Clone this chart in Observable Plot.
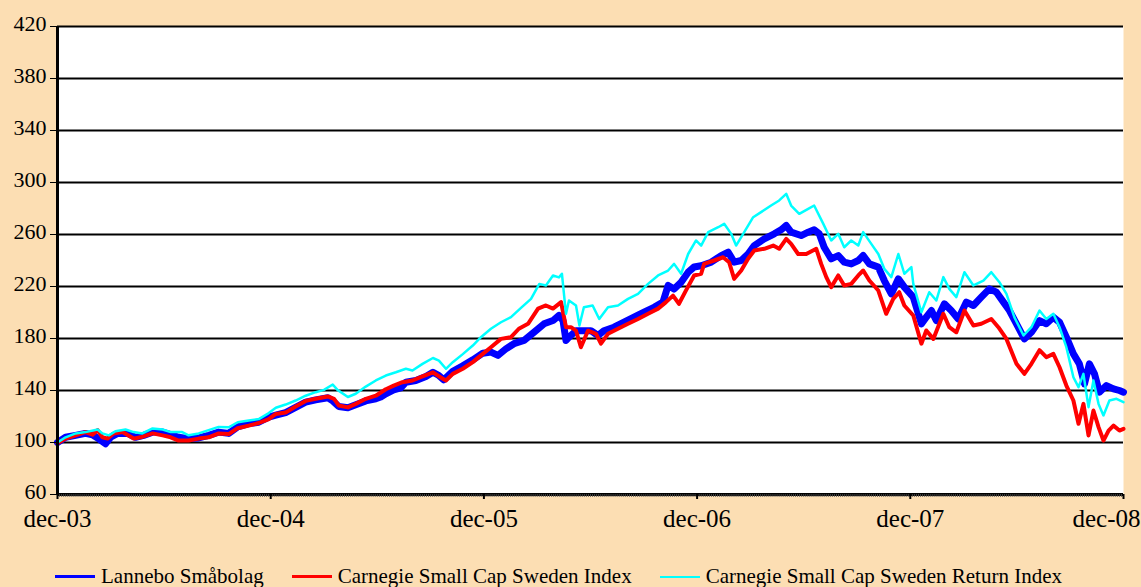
<!DOCTYPE html>
<html><head><meta charset="utf-8">
<script src="https://cdn.jsdelivr.net/npm/d3@7"></script>
<script src="https://cdn.jsdelivr.net/npm/@observablehq/plot@0.6"></script>
<style>
html,body{margin:0;padding:0;background:#FCDEB3;}
#wrap{position:relative;width:1141px;height:587px;overflow:hidden;font-family:"Liberation Serif","Times New Roman",serif;}
#chart{position:absolute;left:0;top:0;}
#legend{position:absolute;left:55px;top:566px;display:flex;align-items:center;font-size:21px;line-height:21px;color:#000;white-space:nowrap;}
.item{display:flex;align-items:center;margin-right:28px;}
.sw{width:40px;margin-right:6px;}
</style></head><body>
<div id="wrap"><div id="chart"></div><div id="legend"></div></div>
<script>
// x values are decimal years (2004.0 = end of Dec 2003)
const yearTicks = [2004, 2005, 2006, 2007, 2008, 2009];
const tickLabels = ["dec-03", "dec-04", "dec-05", "dec-06", "dec-07", "dec-08"];
const yTicks = [60, 100, 140, 180, 220, 260, 300, 340, 380, 420];

const seriesNames = ["Lannebo Småbolag", "Carnegie Small Cap Sweden Index", "Carnegie Small Cap Sweden Return Index"];
const seriesColors = ["#0000FF", "#FF0000", "#00FFFF"];

const lannebo = [
[2004.000,100],[2004.038,104],[2004.085,105.5],[2004.131,107],[2004.164,106],[2004.192,103],[2004.225,99],[2004.249,104],[2004.282,107],[2004.329,107],[2004.366,104],[2004.404,105.5],[2004.446,108],[2004.493,108],[2004.531,106],[2004.568,104],[2004.615,103],[2004.662,103.5],[2004.709,105.5],[2004.756,108],[2004.803,107],[2004.845,112],[2004.897,114.5],[2004.944,115.6],[2004.991,119.5],
[2005.024,121],[2005.070,123],[2005.117,127],[2005.164,131],[2005.211,132.8],[2005.268,134.4],[2005.291,132],[2005.319,127.7],[2005.362,126.7],[2005.399,129],[2005.446,132],[2005.493,133.6],[2005.516,135],[2005.540,137.5],[2005.577,140.5],[2005.610,142],[2005.634,146.4],[2005.681,147.7],[2005.728,150.8],[2005.761,154],[2005.789,151.5],[2005.812,148.2],[2005.854,154.8],[2005.901,159],[2005.948,163.6],[2005.995,168.7],
[2006.033,169.5],[2006.066,167],[2006.103,172],[2006.141,176],[2006.188,178.5],[2006.235,184.8],[2006.282,191.3],[2006.324,193.8],[2006.352,197.7],[2006.371,193.8],[2006.385,178.5],[2006.399,181],[2006.432,186],[2006.469,186],[2006.502,186],[2006.535,182.3],[2006.563,186],[2006.610,188.7],[2006.657,192.5],[2006.704,196.4],[2006.751,200.2],[2006.798,204],[2006.840,208],[2006.864,220.8],[2006.892,218],[2006.925,223.3],[2006.958,231],[2006.986,235],
[2007.019,236],[2007.066,238.7],[2007.113,243.8],[2007.146,246.4],[2007.174,238.7],[2007.207,240],[2007.239,245],[2007.268,251.5],[2007.315,256.6],[2007.362,260.5],[2007.394,263.6],[2007.418,266.9],[2007.441,261.8],[2007.488,259.2],[2007.521,261.8],[2007.549,263.6],[2007.573,260.5],[2007.596,250.2],[2007.629,241.3],[2007.662,243.8],[2007.690,238.7],[2007.723,237.4],[2007.756,240],[2007.779,243.8],[2007.808,237.4],[2007.850,234.9],[2007.878,224.6],[2007.911,214.3],[2007.944,225.9],[2007.972,219.5],
[2008.014,211.8],[2008.052,191.3],[2008.075,196.4],[2008.099,201.5],[2008.122,193.8],[2008.160,206.7],[2008.192,201.5],[2008.225,195],[2008.263,208],[2008.296,205.4],[2008.333,211.8],[2008.371,218.2],[2008.404,215.6],[2008.437,208],[2008.465,201.5],[2008.498,191.3],[2008.535,179.7],[2008.568,184.8],[2008.606,193.8],[2008.638,191.3],[2008.671,196.4],[2008.700,192.5],[2008.732,181],[2008.765,168.2],[2008.793,160.5],[2008.817,145.1],[2008.840,160.5],[2008.864,152.8],[2008.887,138.7],[2008.920,143.8],[2008.953,141.3],[2008.981,140],[2009.000,138.7]
];

const carnegie = [
[2004.000,99.5],[2004.038,103],[2004.085,105.5],[2004.131,108],[2004.164,106],[2004.188,109.5],[2004.211,104],[2004.235,103],[2004.263,107],[2004.305,108],[2004.357,103],[2004.390,104],[2004.446,107],[2004.493,105.5],[2004.531,104],[2004.568,101.5],[2004.615,101.5],[2004.662,103],[2004.709,104],[2004.756,107],[2004.803,106.5],[2004.845,111],[2004.897,113],[2004.944,115],[2004.991,118],
[2005.024,122],[2005.070,123],[2005.117,127.7],[2005.164,132],[2005.211,133.6],[2005.268,135.4],[2005.297,133.6],[2005.319,128.5],[2005.362,127],[2005.399,129.7],[2005.446,133.6],[2005.493,136],[2005.540,141],[2005.577,143.8],[2005.618,146.4],[2005.665,147.7],[2005.712,150.8],[2005.761,154],[2005.798,150],[2005.822,147.7],[2005.854,152.8],[2005.901,156.7],[2005.948,161.8],[2005.995,168.2],
[2006.033,173.3],[2006.080,179.7],[2006.127,181],[2006.164,187.5],[2006.207,191.3],[2006.254,203],[2006.291,205.4],[2006.324,203],[2006.362,208],[2006.385,188.7],[2006.408,188.7],[2006.432,186],[2006.455,173.3],[2006.488,186],[2006.526,183.6],[2006.549,176],[2006.582,183.6],[2006.629,187.5],[2006.676,191.3],[2006.723,195],[2006.770,199],[2006.817,203],[2006.854,208],[2006.887,213],[2006.915,206.7],[2006.948,217],[2006.986,228.5],[2007.019,229.8],
[2007.033,237.4],[2007.080,240],[2007.122,242.5],[2007.150,238.7],[2007.174,225.9],[2007.207,232.3],[2007.239,241.3],[2007.268,247.7],[2007.315,249],[2007.357,251.5],[2007.385,249],[2007.418,256.6],[2007.441,252.8],[2007.474,245],[2007.512,245],[2007.559,249],[2007.582,237.4],[2007.606,227.2],[2007.629,219.5],[2007.662,228.5],[2007.690,220.8],[2007.723,222],[2007.756,228.5],[2007.779,232.3],[2007.808,224.6],[2007.850,216.9],[2007.887,199],[2007.920,210.5],[2007.948,215.6],[2007.972,205.4],
[2008.014,197.7],[2008.052,176],[2008.075,186.2],[2008.108,179.7],[2008.155,199],[2008.183,188.7],[2008.216,184.8],[2008.254,201.5],[2008.296,190],[2008.333,191.3],[2008.380,195],[2008.413,188.7],[2008.451,179.7],[2008.498,160.5],[2008.535,152.8],[2008.568,160.5],[2008.606,171],[2008.638,165.6],[2008.671,168.2],[2008.700,157.9],[2008.732,143.8],[2008.765,132.3],[2008.789,114.4],[2008.812,129.7],[2008.836,105.4],[2008.859,124.6],[2008.883,111.8],[2008.906,101.5],[2008.930,109.2],[2008.953,113],[2008.981,109.2],[2009.000,110.5]
];

const carnegieReturn = [
[2004.000,100],[2004.038,104],[2004.085,107],[2004.131,108],[2004.188,110],[2004.211,107],[2004.241,105.5],[2004.272,108.7],[2004.319,110],[2004.357,108],[2004.398,107],[2004.446,110.8],[2004.493,110],[2004.531,108],[2004.585,108],[2004.615,105.5],[2004.662,107],[2004.709,109.5],[2004.756,112],[2004.803,111.7],[2004.845,115.6],[2004.897,117],[2004.944,118],[2004.991,122.6],
[2005.024,126.7],[2005.070,129.2],[2005.117,132.3],[2005.164,136],[2005.211,138.7],[2005.250,140.5],[2005.291,144.6],[2005.313,140.5],[2005.362,135],[2005.399,137.5],[2005.446,143],[2005.493,147.7],[2005.540,151.5],[2005.587,154],[2005.634,156.7],[2005.665,155.4],[2005.712,160.5],[2005.761,165],[2005.789,163],[2005.822,156.7],[2005.854,161.8],[2005.901,168],[2005.948,174.6],[2005.986,181],
[2006.033,187.5],[2006.080,192.5],[2006.127,196.4],[2006.174,203.6],[2006.221,210.5],[2006.260,222],[2006.291,220.8],[2006.324,228.5],[2006.352,227],[2006.366,229.8],[2006.385,199],[2006.399,209.2],[2006.432,205.4],[2006.448,190],[2006.469,204],[2006.510,205.4],[2006.541,195],[2006.582,204],[2006.629,205.4],[2006.676,210.5],[2006.723,214.3],[2006.770,222],[2006.817,228.5],[2006.864,232.3],[2006.892,237.4],[2006.925,229.8],[2006.958,245],[2006.995,255.4],[2007.019,251.5],
[2007.052,261.8],[2007.099,265.6],[2007.127,268.2],[2007.160,260.5],[2007.183,251.5],[2007.221,261.8],[2007.263,273.3],[2007.300,277.2],[2007.347,282.3],[2007.385,286.2],[2007.418,291.3],[2007.441,282.3],[2007.479,275.9],[2007.521,279.7],[2007.549,282.3],[2007.592,268.2],[2007.629,255.4],[2007.662,260.5],[2007.690,250.2],[2007.723,255.4],[2007.756,251.5],[2007.779,261.8],[2007.817,252.8],[2007.850,245],[2007.878,233.6],[2007.911,227.2],[2007.944,245],[2007.972,229.8],[2008.005,234.9],
[2008.014,222],[2008.052,200.2],[2008.089,215.6],[2008.122,209.2],[2008.155,227.2],[2008.183,218.2],[2008.216,211.8],[2008.254,231],[2008.296,220.8],[2008.343,224.6],[2008.380,231],[2008.418,223.3],[2008.451,214.3],[2008.488,196.4],[2008.531,182.3],[2008.568,188.7],[2008.606,201.5],[2008.638,195],[2008.671,199],[2008.700,188.7],[2008.732,173.3],[2008.765,150.2],[2008.789,142.6],[2008.812,152.8],[2008.836,127.2],[2008.859,147.7],[2008.883,129.7],[2008.906,120.8],[2008.934,132.3],[2008.967,133.6],[2009.000,131]
];

const allSeries = [lannebo, carnegie, carnegieReturn];
const widths = [7, 4, 2.5];

const minorTicks = d3.range(2004, 2009.0001, 1 / 104);
const fmtYear = d => tickLabels[yearTicks.indexOf(d)];

const chart = Plot.plot({
  width: 1141, height: 540,
  marginLeft: 57, marginRight: 18, marginTop: 26, marginBottom: 46,
  style: {background: "transparent", fontFamily: "'Liberation Serif','Times New Roman',serif", color: "#000", overflow: "visible"},
  x: {domain: [2004, 2009]},
  y: {domain: [60, 420]},
  marks: [
    Plot.frame({fill: "white", stroke: "none"}),
    Plot.ruleY(yTicks.filter(d => d > 60), {stroke: "#000", strokeWidth: 2}),
    ...allSeries.map((s, i) => Plot.line(s, {
      x: d => d[0], y: d => d[1],
      stroke: seriesColors[i], strokeWidth: widths[i],
      strokeLinejoin: "round", strokeLinecap: "round"
    })),
    Plot.ruleY([60], {stroke: "#000", strokeWidth: 3}),
    Plot.ruleX([2004], {stroke: "#000", strokeWidth: 3}),
    Plot.axisY({ticks: yTicks, tickSize: 7, fill: "none", stroke: "#000", label: null}),
    Plot.axisY({ticks: yTicks, tickSize: 0, tickPadding: 11, dy: -3, fontSize: 22, tickFormat: d => String(d), label: null}),
    Plot.axisX({ticks: minorTicks, tickSize: 3, fill: "none", stroke: "#555", strokeWidth: 0.8, label: null}),
    Plot.axisX({ticks: yearTicks, tickSize: 5, fill: "none", stroke: "#000", strokeWidth: 2, label: null}),
    Plot.axisX({ticks: yearTicks.slice(0, 5), tickSize: 0, tickPadding: 15, fontSize: 25, tickFormat: fmtYear, label: null}),
    Plot.axisX({ticks: yearTicks.slice(5), tickSize: 0, tickPadding: 15, fontSize: 25, textAnchor: "end", dx: 17, tickFormat: fmtYear, label: null})
  ]
});
document.getElementById("chart").appendChild(chart);

const legend = document.getElementById("legend");
seriesNames.forEach((name, i) => {
  const item = document.createElement("div");
  item.className = "item";
  const sw = document.createElement("div");
  sw.className = "sw";
  sw.style.height = (i === 2 ? 2 : 3) + "px";
  sw.style.background = seriesColors[i];
  const label = document.createElement("span");
  label.textContent = name;
  item.appendChild(sw);
  item.appendChild(label);
  legend.appendChild(item);
});
</script>
</body></html>
